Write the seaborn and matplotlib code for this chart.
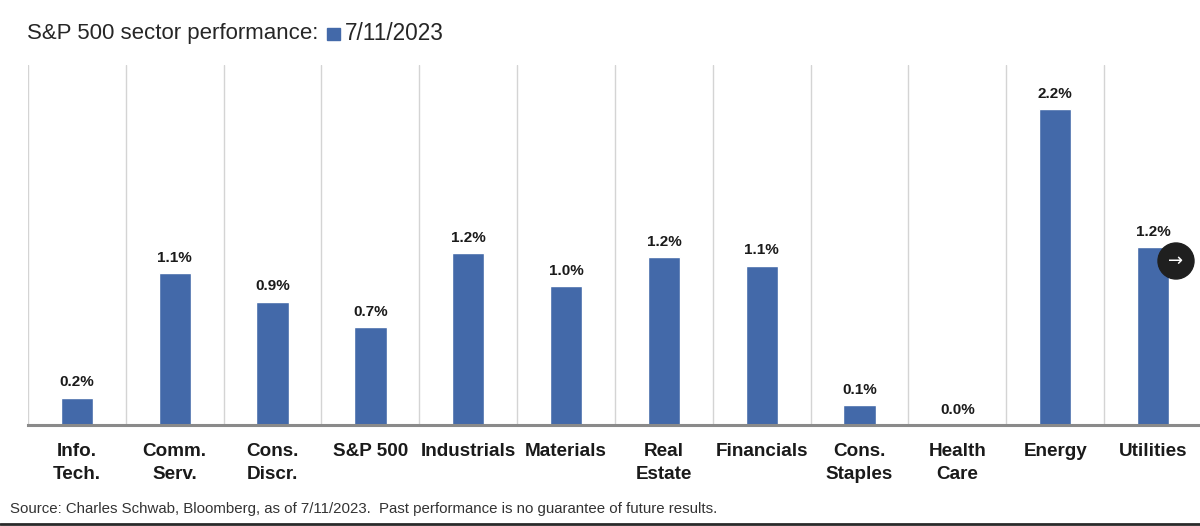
import matplotlib
matplotlib.use("Agg")
import matplotlib.pyplot as plt
import seaborn as sns
import pandas as pd
from matplotlib.patches import Rectangle, Circle
from matplotlib.lines import Line2D

# data
sectors = ["Info.\nTech.", "Comm.\nServ.", "Cons.\nDiscr.", "S&P 500", "Industrials",
           "Materials", "Real\nEstate", "Financials", "Cons.\nStaples", "Health\nCare",
           "Energy", "Utilities"]
perf = [0.19, 1.06, 0.86, 0.68, 1.20, 0.97, 1.17, 1.11, 0.14, 0.0, 2.2, 1.24]
perf_labels = ["0.2%", "1.1%", "0.9%", "0.7%", "1.2%", "1.0%", "1.2%", "1.1%",
               "0.1%", "0.0%", "2.2%", "1.2%"]

title = "S&P 500 sector performance:"
series_name = "7/11/2023"
source = ("Source: Charles Schwab, Bloomberg, as of 7/11/2023.  "
          "Past performance is no guarantee of future results.")

bar_color = "#4369A9"

sns.set_theme(style="white")
plt.rcParams["font.family"] = ["Liberation Sans", "DejaVu Sans"]

df = pd.DataFrame({"sector": sectors, "perf": perf})

W, H = 1200, 526
fig = plt.figure(figsize=(W / 100, H / 100), dpi=100)
ax = fig.add_axes([28 / W, 101 / H, (W - 28) / W, 360 / H])

sns.barplot(data=df, x="sector", y="perf", color=bar_color, width=0.33,
            saturation=1, ax=ax)
ax.set_xlim(-0.5, 11.48)
ax.set_ylim(0, 2.51)

# value labels on top of each bar
ax.bar_label(ax.containers[0], labels=perf_labels, padding=6,
             fontsize=11, fontweight="bold", color="#1a1a1a")

# vertical separators between categories
for i in range(len(sectors) + 1):
    ax.axvline(i - 0.5, color="#d4d4d4", lw=1, zorder=0)

for s in ["top", "right", "left"]:
    ax.spines[s].set_visible(False)
ax.spines["bottom"].set_color("#8a8a8a")
ax.spines["bottom"].set_linewidth(2.2)

ax.set_xlabel("")
ax.set_ylabel("")
ax.set_yticks([])
ax.tick_params(axis="x", length=0, pad=13)
for lab in ax.get_xticklabels():
    lab.set_fontsize(13.6)
    lab.set_fontweight("bold")
    lab.set_color("#1a1a1a")
    lab.set_linespacing(1.45)

# title with a small legend square after it
t = fig.text(27 / W, 1 - 34 / H, title, fontsize=16, color="#262626",
             va="center", ha="left")
fig.canvas.draw()
bb = t.get_window_extent(fig.canvas.get_renderer())
sq_x = bb.x1 + 9
fig.add_artist(Rectangle((sq_x / W, 1 - 40 / H), 13 / W, 12 / H,
                         transform=fig.transFigure, color=bar_color))
fig.text((sq_x + 17) / W, 1 - 34 / H, series_name, fontsize=16.3,
         color="#262626", va="center", ha="left")

# footer
fig.text(10 / W, 1 - 509 / H, source, fontsize=10.8, color="#333333",
         va="center", ha="left")
fig.add_artist(Line2D([0, 1], [1 - 524 / H] * 2, transform=fig.transFigure,
                      color="#2a2a2a", lw=2))

# carousel arrow button from the screenshot
fig.add_artist(Circle((11.76, (H - 261) / 100), 0.18,
                      transform=fig.dpi_scale_trans, color="#1f1f1f", zorder=5))
fig.text(1176 / W, 1 - 261 / H, "→", fontsize=13, color="white",
         ha="center", va="center", zorder=6, family=["DejaVu Sans"])

fig.savefig("out.png", dpi=100)
